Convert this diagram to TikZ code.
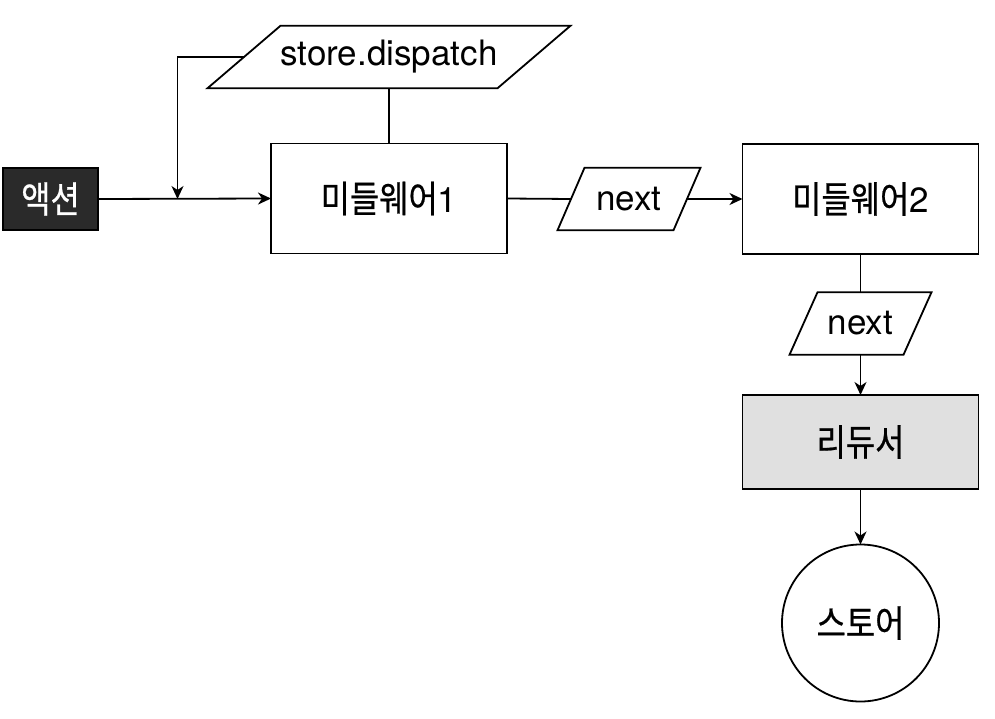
\documentclass[tikz,border=0pt]{standalone}
\usepackage{fontspec}
\setmainfont{TeX Gyre Heros}
\newfontfamily\kr[FakeStretch=0.86,FakeBold=0.6]{Noto Sans CJK KR}
\usetikzlibrary{arrows.meta}
\definecolor{darkfill}{HTML}{2A2A2A}
\definecolor{grayfill}{HTML}{E0E0E0}
\newcommand{\paraoutline}[2]{%
  \draw ([xshift=#2/2]#1.north west) -- ([xshift=#2/2]#1.north east)
     -- ([xshift=-#2/2]#1.south east) -- ([xshift=-#2/2]#1.south west) -- cycle;}
\newcommand{\krt}[1]{{\kr\fontsize{37}{44}\selectfont #1}}
\begin{document}
\begin{tikzpicture}[x=1pt,y=-1pt,line width=1.8pt,
  >={Stealth[length=13pt,width=12pt,inset=4pt]},
  txt/.style={font=\fontsize{35}{42}\selectfont},
  box/.style={txt,draw,rectangle,minimum width=236pt,minimum height=110pt,inner sep=0pt,outer sep=0pt},
  para/.style={txt,inner sep=0pt,outer sep=0pt,minimum height=62.5pt}]
\useasboundingbox (0,0) rectangle (995,719);
% nodes
\node[box,fill=darkfill,draw=black,text=white,minimum width=95pt,minimum height=62pt] (act) at (50.5,199) {\krt{액션}};
\node[box] (mw1) at (389,198.5) {\krt{미들웨어}1};
\node[box] (mw2) at (860.5,199) {\krt{미들웨어}2};
\node[box,fill=grayfill,minimum height=94pt] (red) at (860.5,442) {\krt{리듀서}};
\node[txt,draw,circle,minimum size=157pt,inner sep=0pt,outer sep=0pt] (st) at (860.5,623) {\krt{스토어}};
\node[para,minimum width=290pt] (sd) at (389,57) {store.dispatch};
\node[para,minimum width=116pt] (n1) at (629,199) {next};
\node[para,minimum width=114pt] (n2) at (860.5,323.5) {next};
\paraoutline{sd}{73pt}
\paraoutline{n1}{27pt}
\paraoutline{n2}{28pt}
\coordinate (j) at (177.5,199);
% connectors
\draw[->] (act.east) -- (mw1.west);
\draw[->] (sd.west) -| (j);
\draw (sd.south) -- (mw1.north);
\draw (mw1.east) -- (n1.west);
\draw[->] (n1.east) -- (mw2.west);
\draw (mw2.south) -- (n2.north);
\draw[->] (n2.south) -- (red.north);
\draw[->] (red.south) -- (st.north);
\end{tikzpicture}
\end{document}
